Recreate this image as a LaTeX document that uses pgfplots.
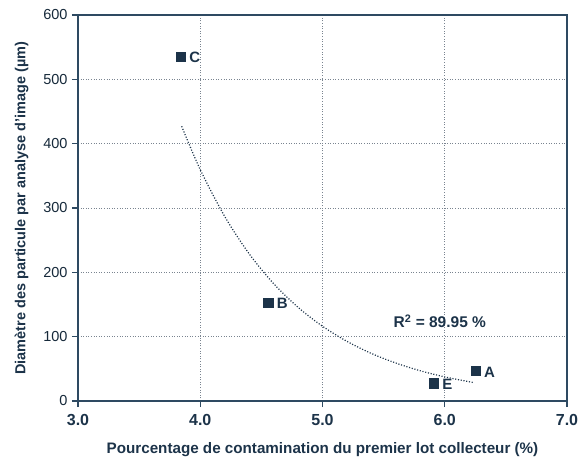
\documentclass[border=0pt]{standalone}
\usepackage{pgfplots}
\pgfplotsset{compat=1.18}
\usepackage{fontspec}
\setmainfont{Liberation Sans}
\definecolor{navy}{HTML}{1C3349}
\definecolor{axc}{HTML}{2E4A62}
\definecolor{gridc}{HTML}{7A8490}
\begin{document}
\begin{tikzpicture}
\useasboundingbox (-78pt,-60pt) rectangle (508pt,401pt);
\begin{axis}[
  scale only axis, width=489pt, height=386pt,
  xmin=3, xmax=7, ymin=0, ymax=600,
  xtick={3,4,5,6,7}, ytick={0,100,...,600},
  xticklabel={\pgfmathprintnumber[fixed,fixed zerofill,precision=1]{\tick}},
  /pgf/number format/assume math mode=true,
  grid=major,
  major grid style={gridc, dash pattern=on 1pt off 1.6pt, line width=0.9pt},
  axis line style={axc, line width=1.1pt},
  tick style={axc, line width=1.1pt},
  tick align=outside, major tick length=6pt,
  xtick pos=bottom, ytick pos=left,
  xticklabel style={font=\fontsize{16}{18}\selectfont\bfseries, text=navy, yshift=-4pt},
  yticklabel style={font=\fontsize{14.5}{17}\selectfont, text=navy!80!black, xshift=-1pt},
  label style={font=\fontsize{14.5}{17}\selectfont\bfseries, text=navy},
  xlabel={Pourcentage de contamination du premier lot collecteur (\%)},
  ylabel={Diamètre des particule par analyse d'image (µm)},
  xlabel style={yshift=-10pt, font=\fontsize{15.2}{17}\selectfont\bfseries},
  ylabel style={yshift=8pt},
  clip=false,
]
\addplot[navy, only marks, mark=square*, mark size=4.7pt,
  nodes near coords, point meta=explicit symbolic,
  every node near coord/.style={anchor=west, xshift=5pt, yshift=-1pt, font=\fontsize{15}{17}\selectfont\bfseries, text=navy}]
  table[meta=l] {
x y l
3.842 535 C
4.556 153 B
5.911 27.5 E
6.252 46.7 A
};
\addplot[navy, dash pattern=on 1.1pt off 1.7pt, line width=1.2pt, smooth] coordinates {
(3.848,427) (4.0,359.6) (4.2,286.9) (4.4,228.8) (4.6,182.5) (4.8,145.6)
(5.0,116.2) (5.2,92.7) (5.4,73.9) (5.6,59.0) (5.8,47.0) (6.0,37.5)
(6.2,29.9) (6.24,28.6)
};
\node[font=\fontsize{15.5}{17}\selectfont\bfseries, text=navy] at (axis cs:5.96,124) {R$^{\mathbf{2}}$ = 89.95 \%};
\end{axis}
\end{tikzpicture}
\end{document}
